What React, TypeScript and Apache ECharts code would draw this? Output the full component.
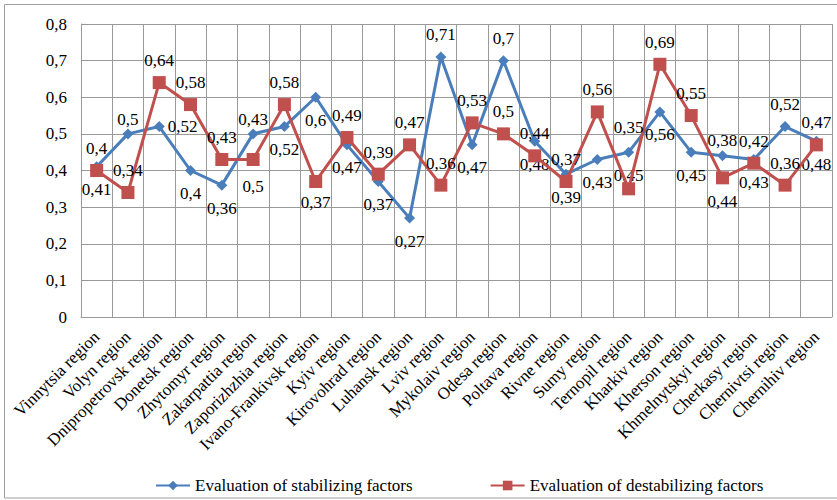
import React, { useEffect, useRef } from "react";
import * as echarts from "echarts";

const categories = [
  "Vinnytsia region", "Volyn region", "Dnipropetrovsk region", "Donetsk region",
  "Zhytomyr region", "Zakarpattia region", "Zaporizhzhia region", "Ivano-Frankivsk region",
  "Kyiv region", "Kirovohrad region", "Luhansk region", "Lviv region",
  "Mykolaiv region", "Odesa region", "Poltava region", "Rivne region",
  "Sumy region", "Ternopil region", "Kharkiv region", "Kherson region",
  "Khmelnytskyi region", "Cherkasy region", "Chernivtsi region", "Chernihiv region",
];

const stabilizing = [
  0.41, 0.5, 0.52, 0.4, 0.36, 0.5, 0.52, 0.6, 0.47, 0.37, 0.27, 0.71,
  0.47, 0.7, 0.48, 0.39, 0.43, 0.45, 0.56, 0.45, 0.44, 0.43, 0.52, 0.48,
];

const destabilizing = [
  0.4, 0.34, 0.64, 0.58, 0.43, 0.43, 0.58, 0.37, 0.49, 0.39, 0.47, 0.36,
  0.53, 0.5, 0.44, 0.37, 0.56, 0.35, 0.69, 0.55, 0.38, 0.42, 0.36, 0.47,
];

const yTicks = [0, 0.1, 0.2, 0.3, 0.4, 0.5, 0.6, 0.7, 0.8];

const BLUE = "#4A7EBB";
const RED = "#C0504D";
const FONT = "Liberation Serif";
const fmt = (v: number) => String(v).replace(".", ",");

type LabelOv = { position: string; distance: number; offset?: number[] };
// label placement overrides (style only)
const blueLabelOverrides: Record<number, LabelOv> = {
  1: { position: "top", distance: 0 },
  2: { position: "right", distance: 3 },
  5: { position: "bottom", distance: 9, offset: [0, 30] },
  11: { position: "top", distance: 8 },
  13: { position: "top", distance: 8 },
  20: { position: "bottom", distance: 32 },
  22: { position: "top", distance: 8 },
};
const redLabelOverrides: Record<number, LabelOv> = {
  5: { position: "top", distance: 25 },
  7: { position: "bottom", distance: 6 },
  17: { position: "top", distance: 46 },
  20: { position: "top", distance: 22 },
};

export default function App() {
  const ref = useRef<HTMLDivElement>(null);
  useEffect(() => {
    if (!ref.current) return;
    const chart = echarts.init(ref.current, undefined, { renderer: "svg" });
    const labelBase = {
      show: true,
      color: "#000",
      fontFamily: FONT,
      fontSize: 17,
      formatter: (p: any) => fmt(p.value),
    };
    const withLabel = (vals: number[], ov: Record<number, LabelOv>) =>
      vals.map((v, i) => {
        const o = ov[i];
        return o ? { value: v, label: { ...o } } : v;
      });
    const blueData = withLabel(stabilizing, blueLabelOverrides);
    const redData = withLabel(destabilizing, redLabelOverrides);
    chart.setOption({
      animation: false,
      backgroundColor: "#fff",
      textStyle: { fontFamily: FONT },
      graphic: [
        {
          type: "rect",
          shape: { x: 4.5, y: 4.5, width: 840, height: 493.5 },
          style: { fill: "none", stroke: "#a0a0a0", lineWidth: 1 },
          silent: true,
        },
      ],
      grid: { left: 81, right: 5, top: 24, bottom: 183, containLabel: false },
      legend: {
        left: 150,
        top: 472,
        itemGap: 77,
        itemWidth: 34,
        itemHeight: 12,
        textStyle: { fontFamily: FONT, fontSize: 17, color: "#000" },
        data: ["Evaluation of stabilizing factors", "Evaluation of destabilizing factors"],
      },
      xAxis: {
        type: "category",
        data: categories,
        boundaryGap: true,
        axisLine: { show: true, lineStyle: { color: "#999", width: 1 } },
        axisTick: { show: false },
        splitLine: { show: true, lineStyle: { color: "#999", width: 1 } },
        axisLabel: {
          interval: 0,
          rotate: 45,
          color: "#000",
          fontFamily: FONT,
          fontSize: 17,
          margin: 17,
        },
      },
      yAxis: {
        type: "value",
        min: 0,
        max: 0.8,
        interval: 0.1,
        axisLine: { show: true, lineStyle: { color: "#999", width: 1 } },
        axisTick: { show: false },
        splitLine: { show: true, lineStyle: { color: "#999", width: 1 } },
        axisLabel: {
          color: "#000",
          fontFamily: FONT,
          fontSize: 17,
          margin: 14,
          formatter: (v: number) => {
            const t = yTicks.find((x) => Math.abs(x - v) < 1e-9);
            return fmt(Number((t ?? v).toFixed(1)));
          },
        },
      },
      series: [
        {
          name: "Evaluation of stabilizing factors",
          type: "line",
          data: blueData,
          symbol: "diamond",
          symbolSize: 11,
          itemStyle: { color: BLUE },
          lineStyle: { color: BLUE, width: 3 },
          label: { ...labelBase, position: "bottom", distance: 9 },
          z: 2,
        },
        {
          name: "Evaluation of destabilizing factors",
          type: "line",
          data: redData,
          symbol: "rect",
          symbolSize: 13,
          itemStyle: { color: RED },
          lineStyle: { color: RED, width: 3 },
          label: { ...labelBase, position: "top", distance: 7 },
          z: 3,
        },
      ],
    });
    return () => chart.dispose();
  }, []);
  return (
    <div
      ref={ref}
      style={{ position: "fixed", left: 0, top: 0, width: 837, height: 500 }}
    />
  );
}
